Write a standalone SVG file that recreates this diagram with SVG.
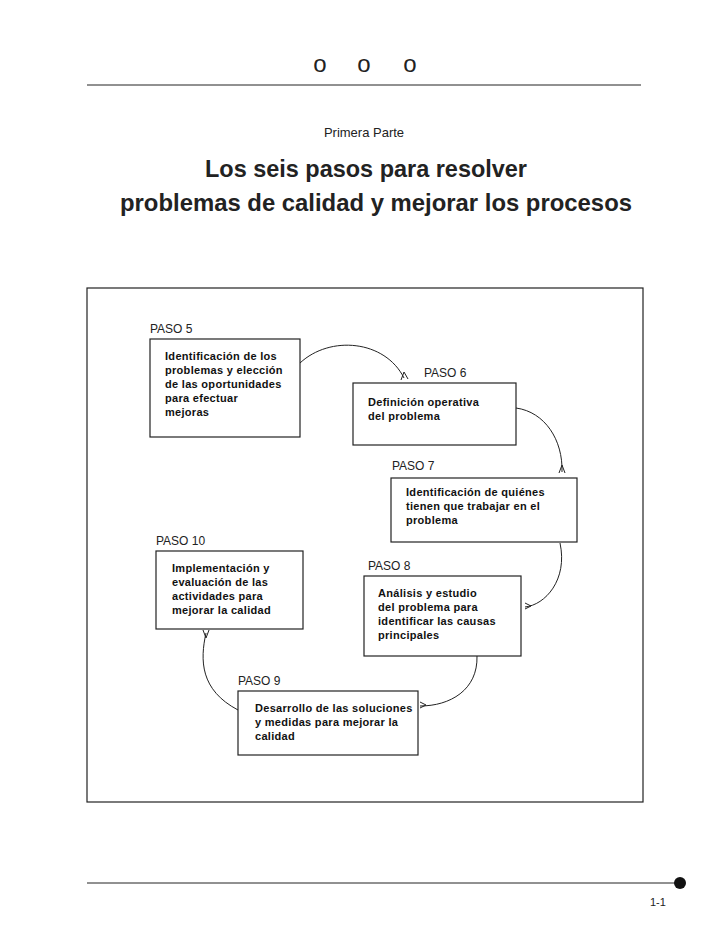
<svg xmlns="http://www.w3.org/2000/svg" width="728" height="943" viewBox="0 0 728 943">
<style>
.b{fill:#fff;stroke:#222;stroke-width:1.2}
.l{font-family:"Liberation Sans",Arial,sans-serif;font-size:12px;fill:#222}
.t{font-family:"Liberation Sans",Arial,sans-serif;font-size:11px;font-weight:bold;fill:#111;letter-spacing:0.3px}
.c{fill:none;stroke:#222;stroke-width:1}
</style>
<rect width="728" height="943" fill="#fff"/>
<g id="header">
<text x="320" y="72" class="l" style="font-size:24px" text-anchor="middle">o</text>
<text x="364" y="72" class="l" style="font-size:24px" text-anchor="middle">o</text>
<text x="410" y="72" class="l" style="font-size:24px" text-anchor="middle">o</text>
<line x1="87" y1="85" x2="641" y2="85" stroke="#222"/>
<text x="364" y="137" class="l" style="font-size:13px" text-anchor="middle">Primera Parte</text>
<text x="366" y="177" class="l" style="font-size:24px;font-weight:bold" text-anchor="middle" textLength="322" lengthAdjust="spacingAndGlyphs">Los seis pasos para resolver</text>
<text x="376" y="211" class="l" style="font-size:24px;font-weight:bold" text-anchor="middle" textLength="512" lengthAdjust="spacingAndGlyphs">problemas de calidad y mejorar los procesos</text>
</g>
<rect x="87" y="288" width="556" height="514" fill="none" stroke="#222" stroke-width="1.2"/>
<g id="connectors">
<path class="c" d="M300 363 C330 335 385 340 404 378"/>
<polyline class="c" points="401,380 404,372 408,379"/>
<path class="c" d="M516 408 C545 412 563 440 562 472"/>
<polyline class="c" points="559,473 562,465 565,473"/>
<path class="c" d="M560 543 C568 580 545 605 525 607"/>
<polyline class="c" points="525,603 531,606 525,609"/>
<path class="c" d="M477 656 C478 690 450 706 420 706"/>
<polyline class="c" points="420,702 426,705 420,708"/>
<path class="c" d="M238 710 C200 690 200 660 206 633"/>
<polyline class="c" points="203,630 206,638 209,630"/>
</g>
<g id="paso5"><text x="150" y="333" class="l">PASO 5</text><rect class="b" x="150" y="339" width="150" height="98"/>
<text class="t" x="165" y="360">Identificación de los</text><text class="t" x="165" y="374">problemas y elección</text><text class="t" x="165" y="388">de las oportunidades</text><text class="t" x="165" y="402">para efectuar</text><text class="t" x="165" y="416">mejoras</text></g>
<g id="paso6"><text x="424" y="377" class="l">PASO 6</text><rect class="b" x="353" y="383" width="163" height="62"/>
<text class="t" x="368" y="406">Definición operativa</text><text class="t" x="368" y="420">del problema</text></g>
<g id="paso7"><text x="392" y="470" class="l">PASO 7</text><rect class="b" x="391" y="478" width="186" height="64"/>
<text class="t" x="406" y="496">Identificación de quiénes</text><text class="t" x="406" y="510">tienen que trabajar en el</text><text class="t" x="406" y="524">problema</text></g>
<g id="paso10"><text x="156" y="545" class="l">PASO 10</text><rect class="b" x="156" y="551" width="147" height="78"/>
<text class="t" x="172" y="572">Implementación y</text><text class="t" x="172" y="586">evaluación de las</text><text class="t" x="172" y="600">actividades para</text><text class="t" x="172" y="614">mejorar la calidad</text></g>
<g id="paso8"><text x="368" y="570" class="l">PASO 8</text><rect class="b" x="364" y="576" width="157" height="80"/>
<text class="t" x="378" y="597">Análisis y estudio</text><text class="t" x="378" y="611">del problema para</text><text class="t" x="378" y="625">identificar las causas</text><text class="t" x="378" y="639">principales</text></g>
<g id="paso9"><text x="238" y="685" class="l">PASO 9</text><rect class="b" x="238" y="691" width="180" height="64"/>
<text class="t" x="255" y="712">Desarrollo de las soluciones</text><text class="t" x="255" y="726">y medidas para mejorar la</text><text class="t" x="255" y="740">calidad</text></g>
<g id="footer">
<line x1="87" y1="883" x2="678" y2="883" stroke="#222"/>
<circle cx="680" cy="883" r="6" fill="#111"/>
<text x="650" y="906" class="l" style="font-size:11px">1-1</text>
</g>
</svg>
